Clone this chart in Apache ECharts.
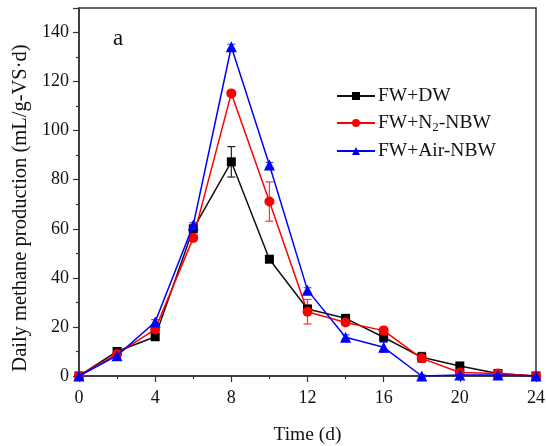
<!DOCTYPE html>
<html>
<head>
<meta charset="utf-8">
<script src="https://cdn.jsdelivr.net/npm/echarts@6/dist/echarts.min.js"></script>
<style>html,body{margin:0;padding:0;background:#fff}#c{width:546px;height:446px}</style>
</head>
<body>
<div id="c"></div>
<script>
const days = [0, 2, 4, 6, 8, 10, 12, 14, 16, 18, 20, 22, 24];
const fwDW = [0, 10, 16, 60, 87.3, 47.6, 27.3, 23.5, 15.8, 7.6, 4.1, 1, 0];
const fwN2 = [0, 9, 19, 56.3, 115.2, 71.1, 26.2, 21.8, 18.5, 7.2, 1.4, 1, 0];
const fwAir = [0, 8.3, 22, 61.5, 134.2, 86, 35, 15.8, 11.7, 0, 0.4, 0.4, 0];
const errDW = [0, 1, 0.8, 1, 6.2, 0.8, 1.5, 1, 1.5, 2, 0.8, 0.5, 0];
const errN2 = [0, 0.8, 1, 1.2, 1, 8, 5, 1, 1.5, 1.5, 0.5, 0.5, 0];
const errAir = [0, 0.8, 1, 1, 1, 1, 1, 1, 2, 0.5, 0.5, 0.3, 0];
const xTicks = [0, 4, 8, 12, 16, 20, 24];
const yTicks = [0, 20, 40, 60, 80, 100, 120, 140];

const font = 'Liberation Serif';
function pairs(v) { return days.map((d, i) => [d, v[i]]); }
function errData(v, e) { return days.map((d, i) => [d, v[i] - e[i], v[i] + e[i]]); }
function errSeries(v, e, color) {
  return {
    type: 'custom',
    data: errData(v, e),
    z: 1,
    silent: true,
    renderItem: function (params, api) {
      const x = api.value(0);
      const lo = api.coord([x, api.value(1)]);
      const hi = api.coord([x, api.value(2)]);
      const w = 4;
      return {
        type: 'group',
        children: [
          { type: 'line', shape: { x1: lo[0], y1: lo[1], x2: hi[0], y2: hi[1] }, style: { stroke: color, lineWidth: 1.2 } },
          { type: 'line', shape: { x1: lo[0] - w, y1: lo[1], x2: lo[0] + w, y2: lo[1] }, style: { stroke: color, lineWidth: 1.2 } },
          { type: 'line', shape: { x1: hi[0] - w, y1: hi[1], x2: hi[0] + w, y2: hi[1] }, style: { stroke: color, lineWidth: 1.2 } }
        ]
      };
    }
  };
}

const chart = echarts.init(document.getElementById('c'));
chart.setOption({
  animation: false,
  backgroundColor: '#fff',
  textStyle: { fontFamily: font },
  grid: { left: 79, right: 10, top: 8, bottom: 70, containLabel: false, outerBoundsMode: 'none',
    show: true, borderColor: '#333', borderWidth: 1.5, backgroundColor: 'transparent' },
  title: { text: 'a', left: 108, top: 22, textStyle: { fontFamily: font, fontSize: 23, fontWeight: 'normal', color: '#111' } },
  legend: {
    orient: 'vertical',
    left: 331,
    top: 81,
    itemWidth: 38,
    itemHeight: 10,
    itemGap: 7,
    data: ['FW+DW', 'FW+N2-NBW', 'FW+Air-NBW'],
    formatter: function (n) { return n === 'FW+N2-NBW' ? 'FW+N{sub|2}-NBW' : n; },
    textStyle: {
      fontFamily: font, fontSize: 19.5, color: '#111', padding: [0, 0, 0, -2],
      rich: { sub: { fontFamily: font, fontSize: 13, verticalAlign: 'bottom', padding: [9, 0, 0, 0], color: '#111' } }
    }
  },
  xAxis: {
    type: 'value', min: 0, max: 24, interval: 4,
    name: 'Time (d)', nameLocation: 'middle', nameGap: 49,
    nameTextStyle: { fontFamily: font, fontSize: 19.5, color: '#111' },
    axisLine: { lineStyle: { color: '#333', width: 1.5 } },
    axisTick: { show: true, length: 6, lineStyle: { color: '#333', width: 1.2 } },
    minorTick: { show: true, splitNumber: 2, length: 3, lineStyle: { color: '#333', width: 1.2 } },
    axisLabel: { fontFamily: font, fontSize: 18, color: '#111', margin: 13 },
    splitLine: { show: false }
  },
  yAxis: {
    type: 'value', min: 0, max: 150, interval: 20,
    name: 'Daily methane production (mL/g-VS·d)', nameLocation: 'middle', nameGap: 48,
    nameTextStyle: { fontFamily: font, fontSize: 20.5, color: '#111', padding: [0, 32, 0, 0] },
    axisLine: { show: true, lineStyle: { color: '#333', width: 1.5 } },
    axisTick: { show: true, length: 6, lineStyle: { color: '#333', width: 1.2 } },
    minorTick: { show: true, splitNumber: 2, length: 3, lineStyle: { color: '#333', width: 1.2 } },
    axisLabel: { fontFamily: font, fontSize: 18, color: '#111', margin: 10, showMaxLabel: false,
      formatter: function (v) { return yTicks.indexOf(v) >= 0 ? String(v) : ''; } },
    splitLine: { show: false }
  },
  series: [
    errSeries(fwDW, errDW, '#222'),
    errSeries(fwN2, errN2, '#ff3030'),
    errSeries(fwAir, errAir, '#5050ff'),
    { name: 'FW+DW', type: 'line', data: pairs(fwDW), symbol: 'rect', symbolSize: 9, z: 3,
      lineStyle: { color: '#111', width: 1.5 }, itemStyle: { color: '#000' } },
    { name: 'FW+N2-NBW', type: 'line', data: pairs(fwN2), symbol: 'circle', symbolSize: 10, z: 3,
      lineStyle: { color: '#ff0000', width: 1.5 }, itemStyle: { color: '#ff0000' } },
    { name: 'FW+Air-NBW', type: 'line', data: pairs(fwAir), symbol: 'triangle', symbolSize: 11, z: 4,
      lineStyle: { color: '#0000ff', width: 1.5 }, itemStyle: { color: '#0000ff' } }
  ]
});
</script>
</body>
</html>
